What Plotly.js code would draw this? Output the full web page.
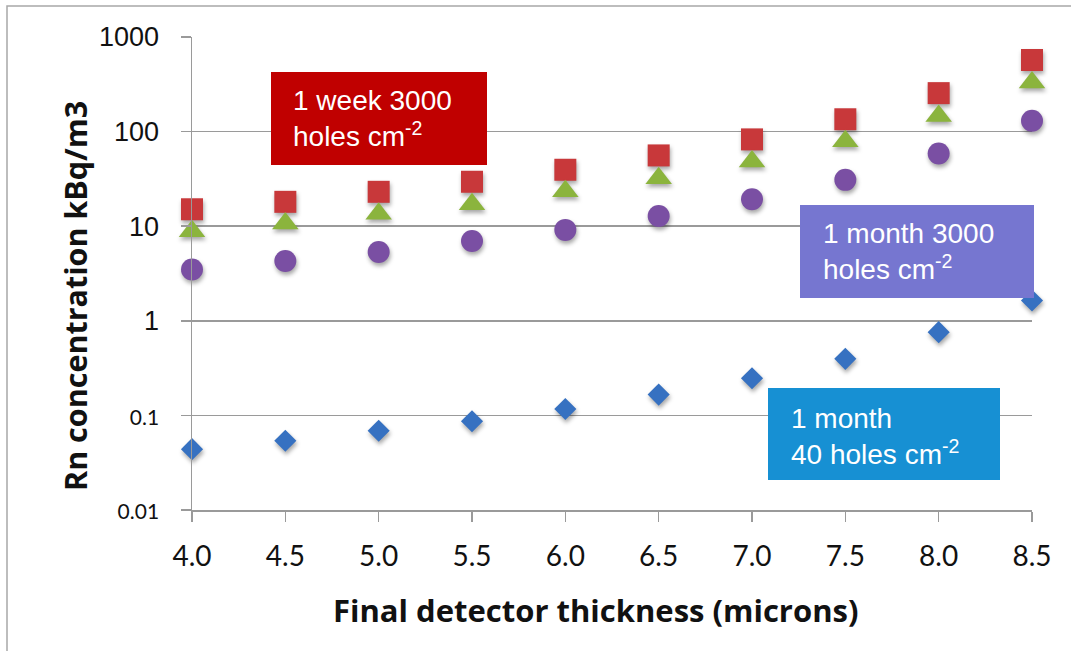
<!DOCTYPE html>
<html>
<head>
<meta charset="utf-8">
<script src="https://cdn.plot.ly/plotly-3.0.1.min.js"></script>
<style>
  html, body { margin: 0; padding: 0; background: #ffffff; }
  #chart { width: 1071px; height: 651px; }
  .scatterlayer .trace .points path { filter: drop-shadow(1px 3px 2px rgba(0,0,0,0.35)); }
</style>
</head>
<body>
<div id="chart"></div>
<script>
// Final detector thickness (microns)
const thickness = [4.0, 4.5, 5.0, 5.5, 6.0, 6.5, 7.0, 7.5, 8.0, 8.5];

// Rn concentration (kBq/m3) needed for each exposure / hole density
const week3000   = [15.1, 18.1, 23.1, 29.5, 39.5, 56, 82.7, 135, 255, 571];
const green3000  = [8.87, 10.7, 13.5, 17.1, 23.4, 32.2, 48.3, 79, 146, 331];
const month3000  = [3.49, 4.29, 5.34, 6.98, 9.14, 12.8, 19.3, 30.9, 58.7, 130];
const month40    = [0.044, 0.054, 0.0689, 0.0866, 0.117, 0.166, 0.247, 0.396, 0.759, 1.64];

// Tick labels of the log axis
const yTickVals = [0.01, 0.1, 1, 10, 100, 1000];
const yTickText = [
  '<span style="font-family:Lato;font-size:21px">0.01</span>',
  '<span style="font-family:Lato;font-size:21px">0.1</span>',
  '1', '10', '100', '1000'
];

// Plot frame in page pixels
const W = 1071, H = 651;
const M = { l: 192, r: 39, t: 37, b: 141 };
const PW = W - M.l - M.r, PH = H - M.t - M.b;
const px = x => (x - M.l) / PW;
const py = y => (H - M.b - y) / PH;

const traces = [
  { x: thickness, y: week3000,  name: '1 week 3000',  type: 'scatter', mode: 'markers', cliponaxis: false,
    marker: { symbol: 'square', size: 22, color: '#C8383A' } },
  { x: thickness, y: green3000, name: '3000 holes', type: 'scatter', mode: 'markers', cliponaxis: false,
    marker: { symbol: 'triangle-up', size: 23, color: '#8BB43D' } },
  { x: thickness, y: month3000, name: '1 month 3000', type: 'scatter', mode: 'markers', cliponaxis: false,
    marker: { symbol: 'circle', size: 22, color: '#7A4FA3' } },
  { x: thickness, y: month40,   name: '1 month 40',   type: 'scatter', mode: 'markers', cliponaxis: false,
    marker: { symbol: 'diamond', size: 17, color: '#3671C1' } }
];

// Label boxes: rectangle edges, text left edge and bottom of the text block
const boxes = [
  { x0: 271, x1: 487, y0: 72,  y1: 165, color: '#C00000',
    text: '1 week 3000<br>holes cm<sup>-2</sup>', left: 292, bottom: 152.5 },
  { x0: 800, x1: 1034, y0: 205, y1: 298, color: '#7676D0',
    text: '1 month 3000<br>holes cm<sup>-2</sup>', left: 822, bottom: 285.8 },
  { x0: 768, x1: 1000, y0: 388, y1: 480, color: '#1790D3',
    text: '1 month<br>40 holes cm<sup>-2</sup>', left: 790, bottom: 470.8 }
];

const shapes = boxes.map(b => ({
  type: 'rect', xref: 'paper', yref: 'paper', layer: 'above',
  x0: px(b.x0), x1: px(b.x1), y0: py(b.y1), y1: py(b.y0),
  fillcolor: b.color, line: { width: 0 }
}));
// outer chart frame
shapes.push({
  type: 'rect', xref: 'paper', yref: 'paper', layer: 'below',
  x0: px(7), x1: px(1200), y0: py(800), y1: py(6),
  line: { color: '#A8A8A8', width: 1.5 }
});

const annotations = boxes.map(b => ({
  xref: 'paper', yref: 'paper', x: px(b.left), y: py(b.bottom),
  xanchor: 'left', yanchor: 'bottom', align: 'left', showarrow: false, text: b.text, borderpad: 0,
  font: { family: 'Liberation Sans, Arial, sans-serif', size: 28, color: '#ffffff' }
}));
annotations.push({
  xref: 'paper', yref: 'paper', x: px(595), y: py(610), xanchor: 'center', yanchor: 'middle',
  showarrow: false, text: '<b>Final detector thickness (microns)</b>',
  font: { family: 'Open Sans, sans-serif', size: 31, color: '#111111' }
});
annotations.push({
  xref: 'paper', yref: 'paper', x: px(75), y: py(296), xanchor: 'center', yanchor: 'middle',
  showarrow: false, textangle: -90, text: '<b>Rn concentration kBq/m3</b>',
  font: { family: 'Open Sans, sans-serif', size: 30.5, color: '#111111' }
});

const layout = {
  width: W, height: H,
  margin: M,
  paper_bgcolor: '#ffffff', plot_bgcolor: '#ffffff',
  showlegend: false,
  xaxis: {
    range: [4, 8.5], dtick: 0.5, tick0: 4, tickformat: '.1f',
    showgrid: false, zeroline: false,
    showline: true, linecolor: '#9A9A9A', linewidth: 1.5,
    ticks: 'outside', ticklen: 10, tickcolor: '#9A9A9A', tickwidth: 1.5,
    ticklabelstandoff: 11,
    tickfont: { family: 'Lato, sans-serif', size: 28, color: '#111111' }
  },
  yaxis: {
    type: 'log', range: [-2, 3],
    tickvals: yTickVals, ticktext: yTickText,
    showgrid: true, gridcolor: '#9A9A9A', gridwidth: 1.5,
    zeroline: false,
    showline: true, linecolor: '#9A9A9A', linewidth: 1.5,
    ticks: 'outside', ticklen: 10, tickcolor: '#9A9A9A', tickwidth: 1.5,
    ticklabelstandoff: 16,
    tickfont: { family: 'Liberation Sans, Arial, sans-serif', size: 27, color: '#111111' }
  },
  shapes: shapes,
  annotations: annotations
};

Plotly.newPlot('chart', traces, layout, { displayModeBar: false, staticPlot: true });
</script>
</body>
</html>
